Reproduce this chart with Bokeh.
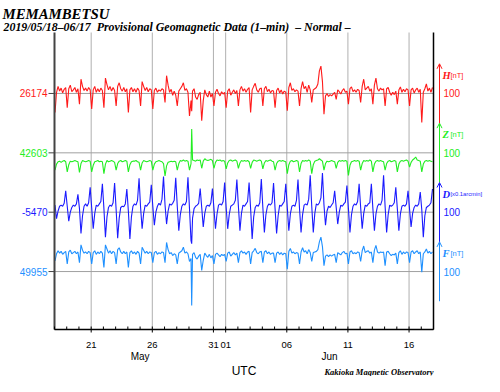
import pandas as pd
from bokeh.plotting import figure
from bokeh.models import Range1d, Arrow, OpenHead
from bokeh.core.properties import value
from bokeh.embed import file_html
from bokeh.resources import INLINE

# ---------------- data ----------------
station = "MEMAMBETSU"
subtitle = "2019/05/18\u201306/17 \u00a0Provisional Geomagnetic Data (1\u2013min) \u00a0\u2013 Normal \u2013"
credit = "Kakioka Magnetic Observatory"
start = "2019-05-18"
end = "2019-06-18"
n_days = 31
sample_hours = [1, 4, 7, 10, 13, 16, 19, 22]

components = ["H", "Z", "D", "F"]
baselines = [26174, 42603, -5470, 49955]
unit_labels = ["[nT]", "[nT]", "[x0.1arcmin]", "[nT]"]
scale_labels = ["100", "100", "100", "100"]
scale_size = 100

tick_dates = ["2019-05-21", "2019-05-26", "2019-05-31", "2019-06-01",
              "2019-06-06", "2019-06-11", "2019-06-16"]
tick_labels = ["21", "26", "31", "01", "06", "11", "16"]
month_names = ["May", "Jun"]
month_centers = ["2019-05-25 00:00", "2019-06-09 12:00"]
axis_title = "UTC"

# deviations from baseline, one row per day, samples at sample_hours (UTC)
H_dev = [
    [-32, 2, 12, 4, 9, 1, 7, 10], [-24, 8, 14, 3, 6, 10, 2, 8],
    [-18, 24, 12, 5, 9, 4, 10, 6], [-26, 6, 12, 2, 8, 3, 9, 5],
    [-24, 26, 15, 6, 12, 4, 10, 5], [-21, 12, 18, 8, 4, 10, 3, 8],
    [-32, 6, 10, 3, 8, 2, 9, 5], [-21, 20, 12, 5, 10, 3, 8, 6],
    [-26, 5, 9, 2, 6, 4, 8, 6], [-15, 30, 14, 2, 7, -3, 4, -3],
    [-21, 4, 8, 12, 18, 5, 8, 2], [-38, -12, 4, 8, -6, -10, -2, 2],
    [-46, -12, 6, -2, -6, 4, -6, 0], [-21, 2, 7, 0, -4, 3, -1, 2],
    [-24, 4, 8, -3, 2, 6, 0, 5], [-21, 6, 12, 4, 8, 2, 7, 10],
    [-32, 6, 12, 17, 6, 2, 8, 9], [-21, 8, 12, 3, 7, 1, 5, 4],
    [-24, 5, 9, 1, 6, -1, 4, 2], [-29, 10, 18, 5, 8, 3, 6, 4],
    [-21, 8, 20, 8, 12, 2, 14, 6], [-15, 6, 8, 10, 16, 38, 46, 20],
    [-35, -4, 0, -5, -2, -4, -1, 2], [-10, 6, 3, -1, 5, 8, 2, 4],
    [-18, 8, 11, 3, 6, 2, 7, 5], [-15, 12, 24, 6, 9, 12, 4, 8],
    [-18, 14, 26, 8, 4, 9, 6, 8], [-21, 8, 10, 2, -3, 2, -2, 4],
    [-18, 6, 11, 2, 7, 3, 8, 6], [-21, 6, 9, 1, 6, 9, 2, 7],
    [-49, 2, 8, 16, 4, 9, 2, 10],
]
Z_dev = [
    [-29, -19, -15, -14, -16, -14, -13, -15], [-32, -20, -14, -15, -14, -13, -14, -15],
    [-33, -18, -13, -14, -15, -14, -13, -14], [-32, -21, -15, -14, -13, -15, -14, -15],
    [-35, -19, -13, -15, -14, -13, -14, -16], [-29, -18, -14, -13, -15, -14, -13, -14],
    [-32, -20, -15, -14, -14, -13, -15, -16], [-29, -17, -13, -14, -15, -14, -13, -14],
    [-29, -19, -15, -14, -13, -14, -15, -18], [-39, -22, -16, -15, -14, -15, -14, -15],
    [-29, -18, -13, -14, -12, -14, -13, -14], [-29, -18, -12, -13, -14, -12, -13, -12],
    [-26, -14, -10, -12, -13, -12, -11, -13], [-26, -16, -12, -13, -12, -14, -13, -14],
    [-27, -17, -13, -12, -14, -13, -12, -14], [-26, -17, -13, -14, -13, -14, -13, -15],
    [-26, -16, -12, -13, -14, -13, -12, -14], [-27, -17, -13, -14, -13, -12, -14, -15],
    [-29, -18, -14, -13, -14, -13, -14, -15], [-35, -20, -14, -13, -15, -14, -13, -14],
    [-32, -18, -13, -14, -13, -14, -12, -14], [-35, -20, -14, -13, -12, -10, -12, -14],
    [-29, -18, -14, -15, -14, -13, -14, -15], [-26, -16, -13, -14, -13, -14, -13, -14],
    [-38, -21, -15, -14, -13, -14, -13, -14], [-29, -18, -13, -14, -13, -14, -12, -14],
    [-32, -19, -14, -13, -14, -13, -14, -15], [-29, -18, -14, -13, -15, -14, -13, -14],
    [-32, -19, -14, -13, -14, -13, -12, -14], [-24, -16, -12, -10, -7, -12, -13, -14],
    [-32, -19, -14, -13, -14, -13, -14, -15],
]
D_dev = [
    [12, -11, 2, 10, 12, 10, 15, 36], [10, -15, 0, 8, 12, 10, 14, 30],
    [6, -36, -6, 10, 14, 10, 16, 42], [8, -28, -2, 12, 10, 14, 18, 48],
    [6, -42, -8, 8, 12, 10, 16, 49], [4, -44, -10, 8, 10, 9, 14, 39],
    [2, -45, -8, 10, 14, 12, 20, 57], [8, -28, -2, 12, 10, 14, 17, 46],
    [10, -22, 0, 10, 15, 12, 22, 60], [12, -20, 2, 14, 12, 15, 20, 58],
    [10, -31, -4, 10, 14, 12, 18, 59], [6, -48, -10, 6, 10, 12, 15, 40],
    [8, -25, -2, 10, 12, 10, 16, 40], [6, -28, -3, 12, 14, 12, 18, 50],
    [8, -28, -4, 10, 12, 14, 20, 55], [10, -31, -2, 12, 10, 14, 18, 50],
    [6, -45, -8, 8, 12, 10, 16, 56], [8, -34, -4, 10, 14, 12, 16, 49],
    [6, -36, -6, 12, 10, 14, 18, 48], [8, -31, -3, 10, 12, 10, 20, 55],
    [6, -34, -4, 12, 14, 12, 22, 62], [10, -34, -2, 14, 12, 16, 24, 66],
    [12, -22, 2, 10, 8, 12, 16, 36], [8, -20, 0, 12, 10, 14, 17, 45],
    [6, -34, -4, 10, 14, 12, 18, 48], [8, -28, -2, 12, 10, 14, 16, 48],
    [6, -31, -3, 10, 14, 12, 20, 62], [10, -34, -4, 12, 10, 12, 16, 42],
    [6, -31, -3, 10, 12, 10, 14, 36], [5, -25, -2, 8, 12, 10, 14, 34],
    [4, -42, -6, 8, 10, 12, 16, 39],
]
F_dev = [
    [18, 30, 35, 31, 34, 29, 32, 34], [13, 33, 36, 30, 32, 34, 30, 33],
    [15, 45, 36, 31, 33, 30, 34, 32], [13, 32, 35, 29, 33, 30, 34, 31],
    [7, 45, 38, 31, 35, 30, 34, 32], [13, 37, 40, 33, 30, 34, 30, 33],
    [7, 32, 35, 30, 33, 29, 34, 31], [13, 41, 36, 31, 34, 30, 33, 32],
    [15, 32, 34, 29, 32, 30, 33, 32], [15, 49, 37, 30, 32, 27, 30, 28],
    [13, 31, 33, 35, 41, 31, 33, 30], [17, 22, 29, 32, 24, 21, 26, 29],
    [2, 19, 31, 27, 24, 29, 23, 27], [13, 29, 31, 28, 25, 29, 27, 29],
    [17, 31, 33, 26, 29, 32, 28, 31], [15, 32, 35, 31, 33, 29, 33, 34],
    [13, 32, 35, 39, 32, 30, 33, 34], [15, 33, 35, 30, 33, 29, 31, 31],
    [15, 31, 33, 29, 32, 28, 31, 30], [4, 34, 39, 31, 33, 30, 32, 31],
    [13, 33, 40, 33, 35, 30, 37, 32], [17, 32, 33, 34, 37, 50, 58, 42],
    [10, 26, 28, 25, 28, 26, 28, 29], [15, 32, 30, 28, 32, 34, 30, 31],
    [13, 33, 35, 30, 32, 30, 33, 32], [17, 35, 43, 32, 34, 35, 31, 33],
    [15, 36, 44, 33, 31, 33, 32, 33], [10, 33, 34, 30, 27, 29, 28, 31],
    [13, 32, 35, 29, 33, 30, 33, 32], [15, 33, 35, 30, 33, 35, 30, 33],
    [-1, 30, 33, 38, 31, 34, 30, 33],
]
# one-minute spike (2019-05-29 ~05:20 UTC)
spike_time = "2019-05-29 05:20"
spike_dev = {"H": -30, "Z": 40, "D": -53, "F": -57}

# ---------------- styles / layout (pixels) ----------------
colors = ["#ff1a1a", "#22ee22", "#1a1aff", "#1e90ff"]
W, Hh = 484, 376
PL, PR, PT, PB = 54, 433, 32, 329          # plot area in canvas pixels
y_lo, y_hi = -247.6, 252.7                  # plot area in stacked units
offsets = [150 - 100 * i for i in range(4)]
SANS = value("Liberation Sans")
SERIF = value("Liberation Serif")

t0 = pd.Timestamp(start)
t1 = pd.Timestamp(end)
ms0 = t0.value // 10**6
ms1 = t1.value // 10**6
mpp = (ms1 - ms0) / (PR - PL)
upp = (y_hi - y_lo) / (PB - PT)
xr0, xr1 = ms0 - PL * mpp, ms1 + (W - PR) * mpp
yr0, yr1 = y_lo - (Hh - PB) * upp, y_hi + PT * upp

def X(px):
    return xr0 + px * mpp

def Y(py):
    return yr1 - py * upp

rows = {"t": [t0 + pd.Timedelta(days=d, hours=h) for d in range(n_days) for h in sample_hours]}
for c, dev in zip(components, [H_dev, Z_dev, D_dev, F_dev]):
    rows[c] = [v for day in dev for v in day]
df = pd.DataFrame(rows)
sp = pd.DataFrame({"t": [pd.Timestamp(spike_time)], **{c: [spike_dev[c]] for c in components}})
df = pd.concat([df, sp]).sort_values("t").reset_index(drop=True)
df["ms"] = df["t"].astype("int64") // 10**6

p = figure(width=W, height=Hh, x_range=Range1d(xr0, xr1), y_range=Range1d(yr0, yr1),
           x_axis_location=None, y_axis_location=None,
           output_backend="svg", toolbar_location=None, min_border=0)
p.outline_line_color = None
p.grid.visible = False

tick_ms = [pd.Timestamp(d).value // 10**6 for d in tick_dates]
all_days = [(t0 + pd.Timedelta(days=d)).value // 10**6 for d in range(n_days + 1)]

# grid
p.segment(x0=tick_ms, y0=[y_lo] * len(tick_ms), x1=tick_ms, y1=[y_hi] * len(tick_ms),
          line_color="#b0b0b0", line_width=1)
p.segment(x0=[ms0] * 4, y0=offsets, x1=[ms1] * 4, y1=offsets,
          line_color="#a0a0a0", line_width=1)

# traces
for i, c in enumerate(components):
    p.line(df["ms"], df[c] + offsets[i], line_color=colors[i], line_width=1.1)

# frame lines and ticks
p.segment(x0=[ms0], y0=[y_lo], x1=[ms0], y1=[y_hi], line_color="#444444", line_width=2)
p.segment(x0=[ms1], y0=[y_lo], x1=[ms1], y1=[y_hi], line_color="black", line_width=1.5)
p.segment(x0=[ms0], y0=[y_lo], x1=[ms1], y1=[y_lo], line_color="black", line_width=1.5)
p.segment(x0=[X(PL - 6)] * 4, y0=offsets, x1=[ms0] * 4, y1=offsets,
          line_color="#444444", line_width=1)
p.segment(x0=all_days, y0=[y_lo] * len(all_days), x1=all_days,
          y1=[y_lo + 3 * upp] * len(all_days), line_color="black", line_width=1)
p.segment(x0=tick_ms, y0=[y_lo] * len(tick_ms), x1=tick_ms,
          y1=[y_lo - 3 * upp] * len(tick_ms), line_color="black", line_width=1)

# bottom texts
p.text(x=tick_ms, y=[Y(344)] * len(tick_ms), text=tick_labels, text_align="center",
       text_baseline="middle", text_font=SANS, text_font_size=value("9.5px"),
       text_color="black")
p.text(x=[pd.Timestamp(m).value // 10**6 for m in month_centers], y=[Y(356)] * 2,
       text=month_names, text_align="center", text_baseline="middle", text_font=SANS,
       text_font_size=value("10px"), text_color="black")
p.text(x=[(ms0 + ms1) / 2], y=[Y(370)], text=[axis_title], text_align="center",
       text_baseline="middle", text_font=SANS, text_font_size=value("12px"),
       text_color="black")
p.text(x=[ms1], y=[Y(371)], text=[credit], text_align="right", text_baseline="middle",
       text_font=SERIF, text_font_style="bold italic", text_font_size=value("8.5px"),
       text_color="black")

# title texts
p.text(x=[X(2)], y=[Y(13.5)], text=[station], text_align="left",
       text_baseline="alphabetic", text_font=SERIF, text_font_style="bold italic",
       text_font_size=value("14.8px"), text_color="black")
p.text(x=[X(3)], y=[Y(26.5)], text=[subtitle], text_align="left",
       text_baseline="alphabetic", text_font=SERIF, text_font_style="bold italic",
       text_font_size=value("11.9px"), text_color="black")

# left baseline values
p.text(x=[X(47)] * 4, y=offsets, text=[str(b) for b in baselines], text_align="right",
       text_baseline="middle", text_font=SANS, text_font_size=value("10px"),
       text_color=colors)

# right scale bars and labels
for i, c in enumerate(components):
    col = colors[i]
    off = offsets[i]
    p.add_layout(Arrow(x_start=X(439), y_start=off - scale_size / 2,
                       x_end=X(439), y_end=off + scale_size / 2,
                       line_color=col, line_width=1,
                       end=OpenHead(size=5, line_color=col, line_width=1)))
p.text(x=[X(443)] * 4, y=offsets, text=scale_labels, text_align="left",
       text_baseline="middle", text_font=SANS, text_font_size=value("10px"),
       text_color=colors)
p.text(x=[X(442)] * 4, y=[o + 18 * upp for o in offsets], text=components,
       text_align="left", text_baseline="middle", text_font=SERIF,
       text_font_style="bold italic", text_font_size=value("10.5px"), text_color=colors)
unit_sizes = ["7.5px" if len(u) < 6 else "5.8px" for u in unit_labels]
p.text(x=[X(450)] * 4, y=[o + 18 * upp for o in offsets], text=unit_labels,
       text_align="left", text_baseline="middle", text_font=SANS,
       text_font_size=unit_sizes, text_color=colors)

open("out.html", "w").write(file_html(p, INLINE))
